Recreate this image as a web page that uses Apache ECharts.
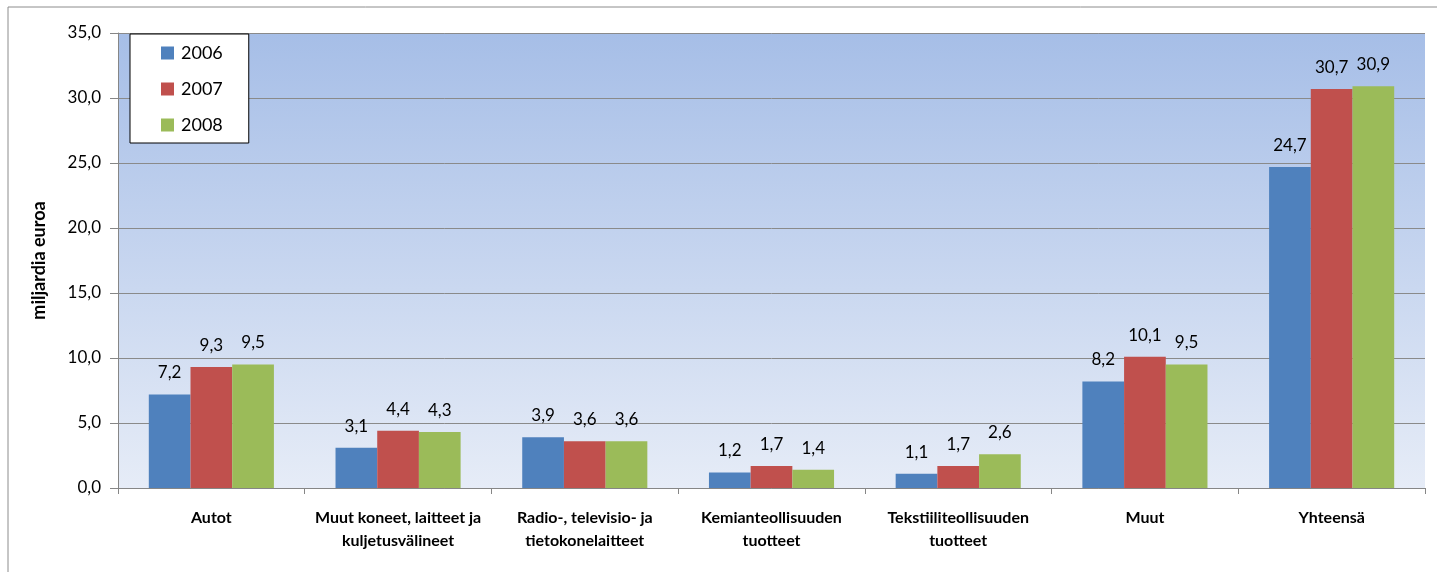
<!DOCTYPE html>
<html>
<head>
<meta charset="utf-8">
<script src="https://cdn.jsdelivr.net/npm/echarts@6/dist/echarts.min.js"></script>
<style>
  html, body { margin: 0; padding: 0; background: #fff; }
  #chart { width: 1437px; height: 572px; }
</style>
</head>
<body>
<div id="chart"></div>
<script>
// categories and values (miljardia euroa)
const categories = [
  "Autot",
  "Muut koneet, laitteet ja\nkuljetusvälineet",
  "Radio-, televisio- ja\ntietokonelaitteet",
  "Kemianteollisuuden\ntuotteet",
  "Tekstiiliteollisuuden\ntuotteet",
  "Muut",
  "Yhteensä"
];
const years = ["2006", "2007", "2008"];
const values2006 = [7.2, 3.1, 3.9, 1.2, 1.1, 8.2, 24.7];
const values2007 = [9.3, 4.4, 3.6, 1.7, 1.7, 10.1, 30.7];
const values2008 = [9.5, 4.3, 3.6, 1.4, 2.6, 9.5, 30.9];
const colors = ["#4f81bd", "#c0504d", "#9bbb59"];

const fmt = v => v.toFixed(1).replace(".", ",");
const FONT = "Lato";

const chart = echarts.init(document.getElementById("chart"));

const makeSeries = (name, data, i) => ({
  name: name,
  type: "bar",
  data: data,
  barGap: "0%",
  barCategoryGap: "33%",
  itemStyle: { color: colors[i] },
  label: {
    show: true,
    position: "top",
    distance: 13,
    formatter: p => fmt(p.value),
    fontFamily: FONT,
    fontSize: 17,
    color: "#000"
  }
});

const option = {
  animation: false,
  textStyle: { fontFamily: FONT },
  graphic: [{
    type: "rect",
    shape: { x: 8, y: 7, width: 1460, height: 620 },
    style: { fill: "none", stroke: "#8c8c8c", lineWidth: 1 },
    z: -10
  }],
  grid: {
    left: 118,
    right: 12,
    top: 33,
    bottom: 84,
    show: true,
    borderWidth: 0,
    backgroundColor: new echarts.graphic.LinearGradient(0, 0, 0, 1, [
      { offset: 0, color: "#a6bee7" },
      { offset: 1, color: "#e6ecf7" }
    ])
  },
  legend: {
    orient: "vertical",
    left: 130,
    top: 34,
    data: years,
    backgroundColor: "#fff",
    borderColor: "#000",
    borderWidth: 1,
    padding: [9, 26, 8, 31],
    itemGap: 16,
    itemWidth: 13,
    itemHeight: 13,
    icon: "rect",
    textStyle: { fontFamily: FONT, fontSize: 18, color: "#000", lineHeight: 20, padding: [0, 0, 0, 2] }
  },
  xAxis: {
    type: "category",
    data: categories,
    axisLine: { lineStyle: { color: "#868686", width: 1 } },
    axisTick: { show: true, length: 6, lineStyle: { color: "#868686" } },
    axisLabel: {
      interval: 0,
      margin: 18,
      fontFamily: FONT,
      fontSize: 16,
      fontWeight: "bold",
      color: "#000",
      lineHeight: 23
    }
  },
  yAxis: {
    type: "value",
    min: 0,
    max: 35,
    interval: 5,
    name: "miljardia euroa",
    nameLocation: "middle",
    nameGap: 70,
    nameTextStyle: { fontFamily: FONT, fontSize: 18, fontWeight: "bold", color: "#000" },
    axisLine: { show: true, lineStyle: { color: "#868686", width: 1 } },
    axisTick: { show: true, length: 8, inside: false, lineStyle: { color: "#868686" } },
    axisLabel: {
      formatter: v => fmt(v),
      margin: 17,
      fontFamily: FONT,
      fontSize: 17,
      color: "#000"
    },
    splitLine: { show: true, lineStyle: { color: "#8a8a8a", width: 1 } }
  },
  series: [
    makeSeries(years[0], values2006, 0),
    makeSeries(years[1], values2007, 1),
    makeSeries(years[2], values2008, 2)
  ]
};

chart.setOption(option);
</script>
</body>
</html>
